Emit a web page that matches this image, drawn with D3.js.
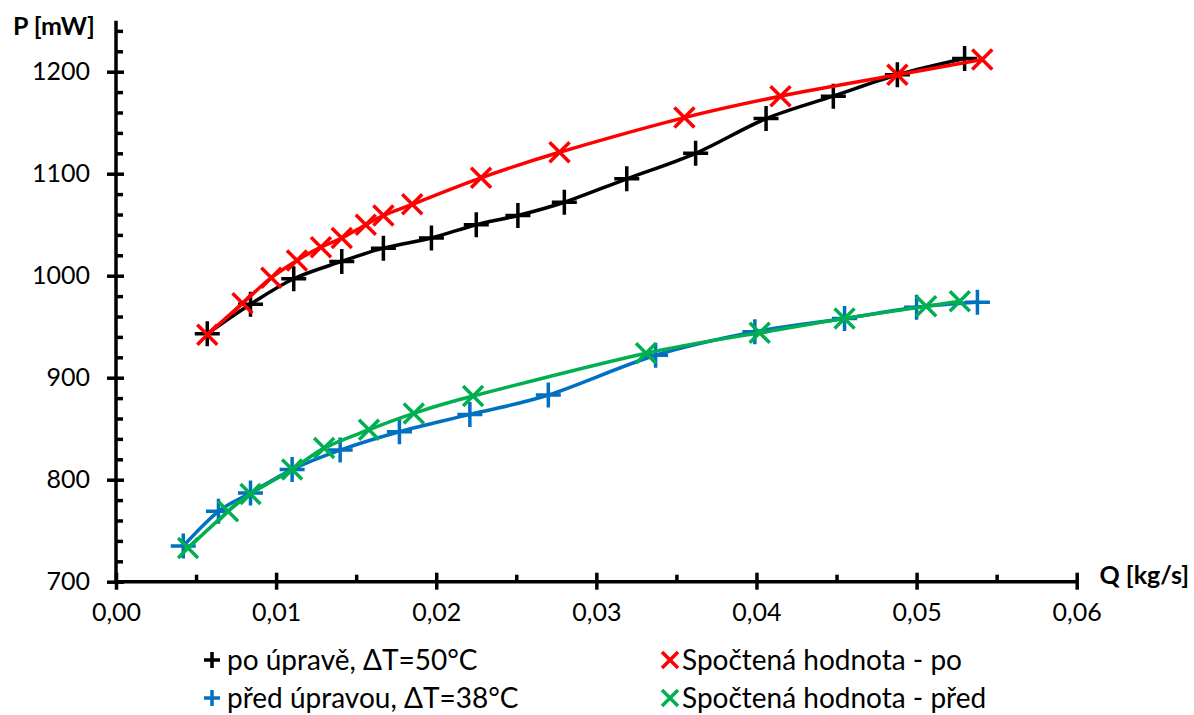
<!DOCTYPE html>
<html><head><meta charset="utf-8">
<script src="https://cdn.jsdelivr.net/npm/d3@7"></script>
<style>body{margin:0;background:#fff;} svg{display:block;}</style>
</head><body>
<svg id="c" width="1194" height="715"></svg>
<script>
// Data
const seriesNames = ["po úpravě, ΔT=50°C", "před úpravou, ΔT=38°C", "Spočtená hodnota - po", "Spočtená hodnota - před"];
const poQ = [0.0057,0.0084,0.0111,0.0141,0.0167,0.0197,0.0225,0.0251,0.0280,0.0319,0.0362,0.0406,0.0448,0.0488,0.0530];
const poP = [943,972,997,1014,1027,1037,1050,1059,1072,1095,1120,1154,1176,1197,1213];
const predQ = [0.0042,0.0064,0.0084,0.0110,0.0140,0.0177,0.0221,0.0270,0.0337,0.0399,0.0455,0.0500,0.0538];
const predP = [735,769,787,810,829,847,864,883,922,945,958,969,974];
const calcPoQ = [0.0057,0.0079,0.0097,0.0113,0.0128,0.0141,0.0156,0.0167,0.0185,0.0228,0.0277,0.0355,0.0415,0.0488,0.0541];
const calcPoP = [942,973,998,1015,1028,1037,1050,1059,1070,1096,1121,1155,1176,1197,1212];
const calcPredQ = [0.0045,0.0070,0.0084,0.0110,0.0130,0.0158,0.0186,0.0223,0.0331,0.0402,0.0455,0.0506,0.0527];
const calcPredP = [733,769,786,810,831,849,865,882,924,944,958,970,975];
const xTicks = [0,0.01,0.02,0.03,0.04,0.05,0.06];
const yTicks = [700,800,900,1000,1100,1200];
const yTitle = "P [mW]";
const xTitle = "Q [kg/s]";

const FONT = "Lato, 'Liberation Sans', sans-serif";
const svg = d3.select("#c");
const x = d3.scaleLinear().domain([0,0.06]).range([116,1076.7]);
const y = d3.scaleLinear().domain([700,1250]).range([581.7,20.7]);

const series = [
  {name: seriesNames[0], q: poQ, p: poP, color: "#000000", marker: "plus"},
  {name: seriesNames[1], q: predQ, p: predP, color: "#0070C0", marker: "plus"},
  {name: seriesNames[2], q: calcPoQ, p: calcPoP, color: "#FF0000", marker: "x"},
  {name: seriesNames[3], q: calcPredQ, p: calcPredP, color: "#00B050", marker: "x"}
];

// y axis
const yMinor = d3.range(720,1250,20).filter(v => v % 100 !== 0);
const gY = svg.append("g").attr("transform","translate(116,0)");
gY.call(d3.axisLeft(y).tickValues(yTicks).tickSize(9).tickSizeOuter(0).tickFormat(d3.format("d")));
gY.select(".domain").remove();
gY.selectAll(".tick line").attr("x2",8).attr("x1",-9).attr("stroke-width",3.5);
gY.selectAll(".tick text").attr("x",-26).attr("font-size",25).attr("font-family",FONT).attr("fill","#000");
const gYm = svg.append("g").attr("transform","translate(116,0)");
gYm.call(d3.axisRight(y).tickValues(yMinor).tickSize(7).tickFormat(""));
gYm.select(".domain").remove();
gYm.selectAll(".tick line").attr("stroke-width",3.5);

// x axis
const xMinor = [0.005,0.015,0.025,0.035,0.045,0.055];
const gX = svg.append("g").attr("transform","translate(0,581.7)");
gX.call(d3.axisBottom(x).tickValues(xTicks).tickSize(9).tickSizeOuter(0).tickFormat(d => d3.format(".2f")(d).replace(".",",")));
gX.select(".domain").remove();
gX.selectAll(".tick line").attr("y1",-9).attr("y2",8).attr("stroke-width",3.5);
gX.selectAll(".tick text").attr("y",22).attr("font-size",25).attr("font-family",FONT).attr("fill","#000");
const gXm = svg.append("g").attr("transform","translate(0,581.7)");
gXm.call(d3.axisTop(x).tickValues(xMinor).tickSize(7).tickFormat(""));
gXm.select(".domain").remove();
gXm.selectAll(".tick line").attr("stroke-width",3.5);

svg.append("line").attr("x1",116).attr("x2",116).attr("y1",y(1250)).attr("y2",583.4).attr("stroke","#000").attr("stroke-width",3.5);
svg.append("line").attr("x1",114.3).attr("x2",x(0.06)).attr("y1",581.7).attr("y2",581.7).attr("stroke","#000").attr("stroke-width",3.5);

svg.append("text").attr("x",13).attr("y",35).attr("font-size",25).attr("font-weight","bold").attr("font-family",FONT).text(yTitle);
svg.append("text").attr("x",1189).attr("y",584).attr("text-anchor","end").attr("font-size",25).attr("font-weight","bold").attr("font-family",FONT).text(xTitle);

// Lines and markers
const line = d3.line().curve(d3.curveCardinal);
function drawMarker(g, type, cx, cy, color, s, w) {
  if (type === "plus") {
    g.append("path").attr("d", `M${cx-s},${cy}H${cx+s}M${cx},${cy-s}V${cy+s}`)
      .attr("stroke",color).attr("stroke-width",w).attr("fill","none");
  } else {
    const h = s*0.8;
    g.append("path").attr("d", `M${cx-h},${cy-h}L${cx+h},${cy+h}M${cx-h},${cy+h}L${cx+h},${cy-h}`)
      .attr("stroke",color).attr("stroke-width",w).attr("fill","none");
  }
}
series.forEach(s => {
  const pts = s.q.map((q,i) => [x(q), y(s.p[i])]);
  svg.append("path").attr("d", line(pts)).attr("fill","none").attr("stroke",s.color).attr("stroke-width",3.5);
  const g = svg.append("g");
  pts.forEach(p => drawMarker(g, s.marker, p[0], p[1], s.color, 12.5, 3.5));
});

// Legend
const legendPos = [[212,660],[212,698],[670,660],[670,698]];
series.forEach((s,i) => {
  const [lx, ly] = legendPos[i];
  const g = svg.append("g");
  drawMarker(g, s.marker, lx, ly, s.color, s.marker === "plus" ? 8 : 10, 3.5);
  g.append("text").attr("x", lx + (s.marker==="plus"?15:12)).attr("y", ly+10).attr("font-size",28)
    .attr("font-family",FONT).attr("fill","#000").text(s.name);
});
</script>
</body></html>
